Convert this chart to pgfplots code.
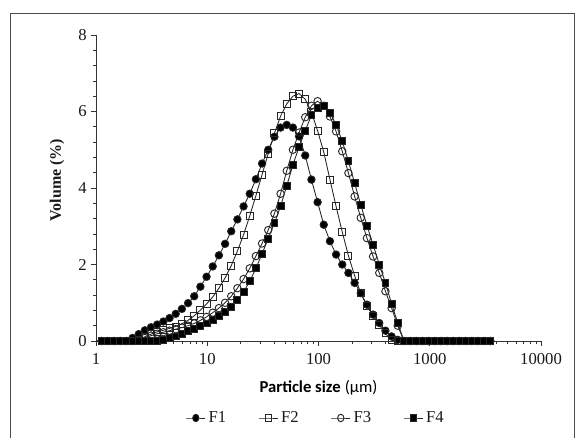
\documentclass[border=0pt]{standalone}
\usepackage{pgfplots}
\pgfplotsset{compat=1.18}
\usepackage{pgfplotstable}
\usepackage{fontspec}
\setmainfont{Liberation Serif}
\newfontfamily\calibri{Carlito}

% particle size (um) and volume (%) for the four formulations
\pgfplotstableread{
x F1 F2 F3 F4
0.9905 0 0 0 0
1.125 0 0 0 0
1.279 0 0 0 0
1.453 0 0 0 0
1.651 0 0 0 0
1.875 0 0 0 0
2.131 0.08 0 0 0
2.421 0.18 0.04 0.03 0
2.750 0.28 0.11 0.08 0
3.125 0.36 0.18 0.14 0
3.550 0.43 0.24 0.19 0
4.034 0.51 0.28 0.23 0.03
4.583 0.60 0.33 0.27 0.07
5.207 0.71 0.38 0.31 0.12
5.916 0.84 0.45 0.35 0.19
6.721 0.99 0.54 0.40 0.26
7.637 1.17 0.66 0.46 0.32
8.677 1.42 0.81 0.54 0.39
9.858 1.68 0.97 0.63 0.46
11.20 1.95 1.15 0.74 0.55
12.73 2.24 1.38 0.86 0.65
14.46 2.54 1.65 1.00 0.76
16.43 2.87 1.97 1.17 0.90
18.66 3.18 2.35 1.38 1.07
21.21 3.52 2.78 1.62 1.29
24.09 3.85 3.27 1.90 1.56
27.37 4.23 3.80 2.22 1.90
31.10 4.64 4.35 2.55 2.28
35.33 5.00 4.90 2.90 2.68
40.14 5.34 5.43 3.33 3.08
45.61 5.58 5.88 3.85 3.52
51.82 5.65 6.20 4.45 4.06
58.88 5.58 6.40 5.00 4.60
66.90 5.35 6.47 5.45 5.08
76.01 4.85 6.32 5.85 5.50
86.36 4.22 5.98 6.15 5.90
98.12 3.63 5.50 6.27 6.10
111.5 3.04 4.94 6.15 6.14
126.7 2.61 4.22 5.87 5.96
143.9 2.26 3.52 5.48 5.66
163.5 2.00 2.85 4.96 5.22
185.8 1.78 2.23 4.39 4.70
211.1 1.52 1.71 3.78 4.13
239.8 1.25 1.25 3.22 3.56
272.5 0.95 0.92 2.69 3.02
309.6 0.69 0.65 2.21 2.52
351.8 0.47 0.42 1.78 2.00
399.6 0.27 0.20 1.30 1.52
454.0 0.12 0.02 0.86 0.97
515.9 0.03 0 0.40 0.47
586.1 0 0 0 0
665.9 0 0 0 0
756.6 0 0 0 0
859.6 0 0 0 0
976.6 0 0 0 0
1110 0 0 0 0
1261 0 0 0 0
1432 0 0 0 0
1627 0 0 0 0
1849 0 0 0 0
2101 0 0 0 0
2387 0 0 0 0
2712 0 0 0 0
3081 0 0 0 0
3500 0 0 0 0
}\psd

\begin{document}
\begin{tikzpicture}
\begin{axis}[
  at={(0,0)}, anchor=south west,
  scale only axis,
  width=333.75pt, height=229.5pt,
  xmode=log,
  xmin=1, xmax=10000, ymin=0, ymax=8,
  axis x line=bottom, axis y line=left,
  axis line style={-, black!80, line width=0.7pt},
  xtick={1,10,100,1000,10000},
  xticklabels={1,10,100,1000,10000},
  minor xtick={2,3,4,5,6,7,8,9,20,30,40,50,60,70,80,90,200,300,400,500,600,700,800,900,2000,3000,4000,5000,6000,7000,8000,9000},
  ytick={0,2,4,6,8},
  minor y tick num=4,
  tick align=outside,
  major tick length=3.5pt, minor tick length=2.5pt,
  tick style={black!80, line width=0.6pt},
  /pgf/number format/assume math mode=true,
  tick label style={font=\fontsize{12.5}{14}\selectfont, text=black!90},
  xticklabel style={yshift=-2pt},
  xlabel={{\calibri\bfseries Particle size} {\calibri (µm)}},
  xlabel style={at={(axis description cs:0.5,-0.1536)}, anchor=center,
    font=\fontsize{12.5}{14}\selectfont, text=black},
  ylabel={\bfseries Volume (\%)},
  ylabel style={at={(axis description cs:-0.0876,0.526)}, anchor=center,
    font=\fontsize{12}{14}\selectfont, text=black!90},
  legend columns=4,
  legend style={at={(0.4944,-0.2516)}, anchor=center, draw=none,
    font=\fontsize{12.5}{14}\selectfont, text=black!90,
    /tikz/every even column/.append style={column sep=22pt}},
  legend image post style={xscale=0.85},
  every axis plot/.append style={black!85, line width=0.65pt},
]
\addplot[mark=*, mark size=2.8pt, mark options={fill=black}] table[x=x, y=F1] {\psd};
\addlegendentry{F1}
\addplot[mark=square, mark size=2.6pt, mark options={fill=none, line width=0.7pt}] table[x=x, y=F2] {\psd};
\addlegendentry{F2}
\addplot[mark=o, mark size=2.8pt, mark options={fill=none, line width=0.7pt}] table[x=x, y=F3] {\psd};
\addlegendentry{F3}
\addplot[mark=square*, mark size=2.6pt, mark options={fill=black}] table[x=x, y=F4] {\psd};
\addlegendentry{F4}
\end{axis}
\draw[black!70, line width=0.75pt] (-63.75pt,-75pt) -- (-63.75pt,246pt) -- (358.5pt,246pt) -- (358.5pt,-75pt);
\pgfresetboundingbox
\path (-72pt,-72pt) rectangle (360.75pt,255.75pt);
\end{tikzpicture}
\end{document}
